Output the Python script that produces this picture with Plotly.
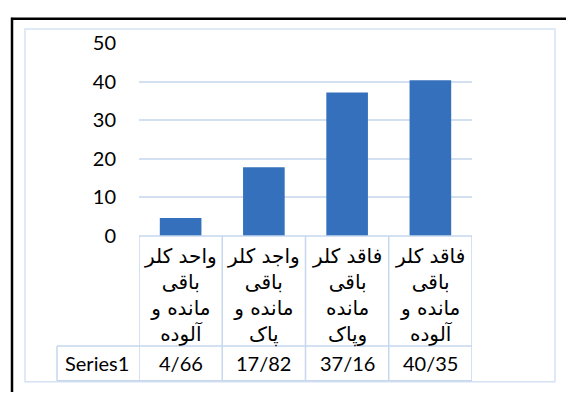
import plotly.graph_objects as go

categories = ["واحد کلر<br>باقی<br>مانده و<br>آلوده",
              "واجد کلر<br>باقی<br>مانده و<br>پاک",
              "فاقد کلر<br>باقی<br>مانده<br>وپاک",
              "فاقد کلر<br>باقی<br>مانده و<br>آلوده"]
values = [4.66, 17.82, 37.16, 40.35]
value_labels = ["4/66", "17/82", "37/16", "40/35"]
series_name = "Series1"

W, H = 566, 403
def px(x): return x / W
def py(y): return 1 - y / H

x0, x1 = 139, 472
y_top, y_zero = 32, 237
row_sep, tbl_bot = 354, 391
line_col = "#c6d7ee"

fig = go.Figure()
fig.add_trace(go.Bar(x=list(range(len(values))), y=values, width=0.5,
                     marker=dict(color="#3570bd", line=dict(width=0)),
                     name=series_name))

shapes = []
# outer black frame (top and left)
shapes.append(dict(type="line", xref="paper", yref="paper", x0=px(11), x1=px(566), y0=py(6), y1=py(6),
                   line=dict(color="black", width=2.5)))
shapes.append(dict(type="line", xref="paper", yref="paper", x0=px(12), x1=px(12), y0=py(5), y1=py(403),
                   line=dict(color="black", width=2.5)))
# inner chart border
shapes.append(dict(type="rect", xref="paper", yref="paper", x0=px(25), x1=px(555), y0=py(392), y1=py(17),
                   line=dict(color="#d6e2f3", width=1.5)))
# data table lines
shapes.append(dict(type="line", xref="paper", yref="paper", x0=px(x0), x1=px(x1), y0=py(y_zero), y1=py(y_zero),
                   line=dict(color=line_col, width=1.5)))
for yy in (row_sep, tbl_bot):
    shapes.append(dict(type="line", xref="paper", yref="paper", x0=px(57), x1=px(x1), y0=py(yy), y1=py(yy),
                       line=dict(color=line_col, width=1.5)))
shapes.append(dict(type="line", xref="paper", yref="paper", x0=px(57), x1=px(57), y0=py(row_sep), y1=py(tbl_bot),
                   line=dict(color=line_col, width=1.5)))
n = len(categories)
for i in range(n + 1):
    xv = -0.5 + i
    shapes.append(dict(type="line", xref="x", yref="paper", x0=xv, x1=xv, y0=py(y_zero), y1=py(tbl_bot),
                       line=dict(color=line_col, width=1.5)))

annotations = []
for i, (c, v) in enumerate(zip(categories, value_labels)):
    annotations.append(dict(x=i, y=py(243), xref="x", yref="paper", text=c, showarrow=False,
                            xanchor="center", yanchor="top", align="center",
                            font=dict(family="DejaVu Sans", size=20, color="black")))
    annotations.append(dict(x=i, y=py((row_sep + tbl_bot) / 2), xref="x", yref="paper", text=v,
                            showarrow=False, xanchor="center", yanchor="middle",
                            font=dict(family="Lato, Open Sans", size=20, color="black")))
annotations.append(dict(x=px(97), y=py((row_sep + tbl_bot) / 2), xref="paper", yref="paper", text=series_name,
                        showarrow=False, xanchor="center", yanchor="middle",
                        font=dict(family="Lato, Open Sans", size=20, color="black")))

fig.update_layout(
    width=W, height=H, autosize=False,
    margin=dict(l=0, r=0, t=0, b=0),
    paper_bgcolor="white", plot_bgcolor="white",
    showlegend=False,
    shapes=shapes, annotations=annotations,
    xaxis=dict(domain=[px(x0), px(x1)], range=[-0.5, n - 0.5], showticklabels=False,
               showgrid=False, zeroline=False, showline=False, ticks=""),
    yaxis=dict(domain=[py(y_zero), py(y_top)], range=[0, 50], dtick=10,
               gridcolor="#d3e0f1", gridwidth=1.5, zeroline=False, showline=False,
               tickfont=dict(family="Lato, Open Sans", size=20, color="black"),
               ticklabelstandoff=22),
)

fig.write_html("out.html", config={"displayModeBar": False},
               post_script="document.body.style.margin='0px';document.body.style.overflow='hidden';")
